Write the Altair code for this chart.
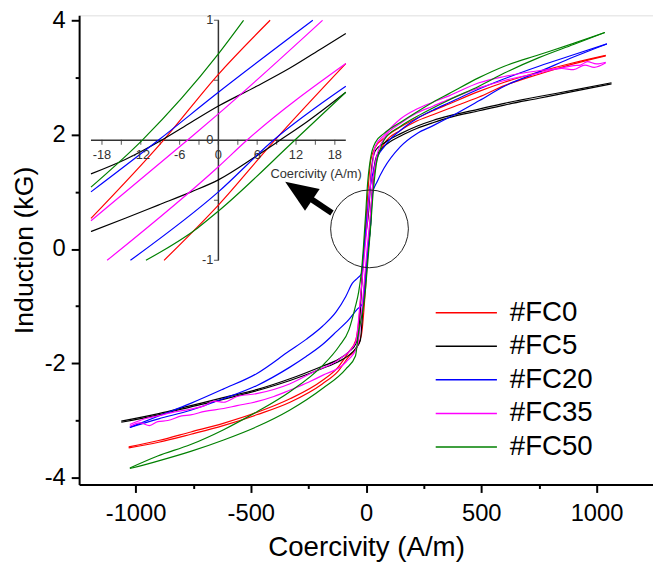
import altair as alt
import pandas as pd

# ---------------- data ----------------
series_names = ["#FC0", "#FC5", "#FC20", "#FC35", "#FC50"]
series_colors = ["#ff0000", "#000000", "#0000ff", "#ff00ff", "#008000"]

# main hysteresis loops: descending branch (from +H to -H) and ascending branch (from -H to +H)
fc0_desc_h = [1040, 900, 750, 600, 490, 360, 290, 220, 150, 80, 40, 20, 8, 0, -9, -20, -30, -45, -75, -120, -190, -330, -475, -620, -760, -900, -1030]
fc0_desc_b = [3.39, 3.26, 3.10, 2.92, 2.76, 2.54, 2.42, 2.29, 2.14, 1.95, 1.78, 1.55, 1.0, 0.55, 0.0, -0.66, -1.20, -1.60, -1.80, -2.06, -2.30, -2.62, -2.86, -3.05, -3.20, -3.35, -3.46]
fc0_asc_h = [-1030, -900, -760, -620, -475, -330, -190, -120, -75, -45, -20, -8, 0, 9, 20, 30, 45, 80, 150, 220, 290, 360, 490, 600, 750, 900, 1040]
fc0_asc_b = [-3.48, -3.38, -3.24, -3.09, -2.90, -2.68, -2.36, -2.13, -1.88, -1.75, -1.50, -1.0, -0.54, 0.0, 0.64, 1.15, 1.55, 1.85, 2.08, 2.24, 2.35, 2.46, 2.66, 2.86, 3.06, 3.24, 3.38]

fc5_desc_h = [1065, 900, 750, 600, 490, 360, 290, 220, 150, 80, 40, 25, 10, 0, -9, -20, -30, -45, -75, -120, -190, -330, -475, -620, -760, -900, -1062]
fc5_desc_b = [2.91, 2.78, 2.67, 2.55, 2.45, 2.33, 2.25, 2.15, 2.02, 1.86, 1.72, 1.45, 0.60, 0.29, 0.0, -0.70, -1.40, -1.66, -1.80, -1.93, -2.05, -2.27, -2.46, -2.60, -2.74, -2.88, -3.01]
fc5_asc_h = [-1062, -900, -760, -620, -475, -330, -190, -120, -75, -45, -25, -10, 0, 9.5, 20, 30, 45, 80, 150, 220, 290, 360, 490, 600, 750, 900, 1065]
fc5_asc_b = [-3.03, -2.90, -2.76, -2.63, -2.48, -2.30, -2.09, -1.97, -1.86, -1.74, -1.60, -0.80, -0.33, 0.0, 0.45, 1.20, 1.62, 1.80, 1.98, 2.11, 2.21, 2.30, 2.42, 2.52, 2.64, 2.76, 2.89]

fc20_desc_h = [1045, 900, 750, 600, 490, 360, 290, 220, 150, 80, 40, 15, 0, -9, -20, -35, -60, -88, -130, -189, -260, -332, -475, -620, -761, -900, -1025]
fc20_desc_b = [3.59, 3.40, 3.20, 2.98, 2.80, 2.56, 2.43, 2.28, 2.08, 1.80, 1.50, 1.00, 0.40, 0.0, -0.43, -0.50, -0.60, -0.83, -1.10, -1.35, -1.58, -1.78, -2.18, -2.45, -2.70, -2.92, -3.12]
fc20_asc_h = [-1025, -900, -761, -620, -475, -332, -260, -189, -130, -74, -38, -14, 0, 8.5, 20, 26, 48, 77, 148, 220, 291, 363, 492, 600, 750, 900, 1045]
fc20_asc_b = [-3.12, -2.97, -2.82, -2.62, -2.39, -2.07, -1.88, -1.67, -1.45, -1.23, -1.05, -0.95, -0.43, 0.0, 0.45, 0.95, 1.18, 1.41, 1.79, 2.02, 2.16, 2.31, 2.60, 2.85, 3.10, 3.36, 3.59]

fc35_desc_h = [1040, 1000, 960, 930, 900, 850, 750, 600, 490, 360, 290, 220, 150, 80, 40, 16, 0, -5, -20, -46, -117, -218, -332, -475, -560, -618, -660, -700, -761, -830, -904, -960, -1025]
fc35_desc_b = [3.27, 3.24, 3.28, 3.22, 3.21, 3.17, 3.12, 3.02, 2.91, 2.68, 2.57, 2.45, 2.28, 2.00, 1.80, 1.00, 0.22, 0.0, -0.67, -1.64, -1.93, -2.13, -2.36, -2.53, -2.58, -2.68, -2.66, -2.74, -2.80, -2.85, -2.92, -2.97, -3.07]
fc35_asc_h = [-1025, -980, -940, -904, -860, -800, -761, -700, -618, -560, -475, -400, -332, -250, -189, -88, -38, -17, 0, 4.4, 20, 30, 45, 80, 150, 220, 290, 360, 490, 600, 750, 850, 900, 950, 990, 1040]
fc35_asc_b = [-3.10, -3.04, -3.09, -3.02, -3.00, -2.92, -2.90, -2.84, -2.79, -2.74, -2.67, -2.58, -2.47, -2.33, -2.21, -1.98, -1.70, -1.0, -0.21, 0.0, 0.64, 1.20, 1.60, 1.95, 2.20, 2.38, 2.50, 2.62, 2.82, 2.95, 3.08, 3.16, 3.14, 3.22, 3.18, 3.26]

fc50_desc_h = [1036, 900, 750, 600, 490, 360, 290, 220, 150, 77, 41, 20, 4, 0, -12, -20, -32, -46, -74, -117, -189, -332, -475, -618, -761, -904, -1025]
fc50_desc_b = [3.79, 3.60, 3.40, 3.20, 3.00, 2.72, 2.57, 2.40, 2.22, 2.02, 1.87, 1.60, 1.00, 0.72, 0.0, -0.39, -0.75, -1.00, -1.41, -1.70, -2.04, -2.50, -2.85, -3.16, -3.42, -3.62, -3.83]
fc50_asc_h = [-1025, -904, -761, -618, -475, -332, -189, -88, -46, -32, -20, -11, -3, 0, 12, 20, 30, 45, 62, 77, 150, 220, 290, 360, 490, 600, 750, 900, 1036]
fc50_asc_b = [-3.84, -3.71, -3.54, -3.34, -3.11, -2.82, -2.44, -2.10, -1.87, -1.45, -1.20, -1.00, -0.73, -0.59, 0.0, 0.40, 0.95, 1.50, 1.75, 1.90, 2.15, 2.32, 2.47, 2.61, 2.85, 3.08, 3.35, 3.58, 3.79]

# inset (zoom of the region around the origin)
in_fc0_desc_h = [-19.7, -8.5, 0, 8.0]
in_fc0_desc_b = [-0.65, 0.0, 0.55, 1.0]
in_fc0_asc_h = [-8.4, 0, 8.7, 19.7]
in_fc0_asc_b = [-1.0, -0.54, 0.0, 0.64]
in_fc5_desc_h = [-19.7, -14.4, -8.8, -4.2, 0, 5.9, 11.0, 16.1, 19.7]
in_fc5_desc_b = [-0.28, -0.16, 0.0, 0.15, 0.285, 0.45, 0.60, 0.77, 0.89]
in_fc5_asc_h = [-19.7, -14.4, -9.3, -4.2, 0, 5.9, 9.5, 13.6, 19.7]
in_fc5_asc_b = [-0.76, -0.65, -0.54, -0.43, -0.33, -0.13, 0.0, 0.15, 0.40]
in_fc20_desc_h = [-19.7, -9.3, 0, 14.6]
in_fc20_desc_b = [-0.43, 0.0, 0.40, 1.0]
in_fc20_asc_h = [-13.6, 0, 8.5, 19.7]
in_fc20_asc_b = [-1.0, -0.43, 0.0, 0.45]
in_fc35_desc_h = [-19.7, -4.8, 0, 16.1]
in_fc35_desc_b = [-0.67, 0.0, 0.22, 1.0]
in_fc35_asc_h = [-17.2, 0, 4.4, 19.7]
in_fc35_asc_b = [-1.0, -0.22, 0.0, 0.64]
in_fc50_desc_h = [-19.7, -11.8, 0, 3.9]
in_fc50_desc_b = [-0.39, 0.0, 0.72, 1.0]
in_fc50_asc_h = [-11.2, -3.2, 0, 11.8, 19.7]
in_fc50_asc_b = [-1.0, -0.73, -0.59, 0.0, 0.40]

inset_x_ticks = [-18, -12, -6, 0, 6, 12, 18]
inset_x_minor = [-15, -9, -3, 3, 9, 15]
inset_y_ticks = [-1, -0.5, 0, 0.5, 1]
inset_y_labels = [1, 0, -1]

main_x_ticks = [-1000, -750, -500, -250, 0, 250, 500, 750, 1000]
main_y_ticks = [-4, -3, -2, -1, 0, 1, 2, 3, 4]

# annotation: magnifier circle centre and arrow (head centre, tail) in data units
circle_h = [15]
circle_b = [0.354]
arrow_h = [-292, -148]
arrow_b = [1.02, 0.63]

# ---------------- tables ----------------
main_sets = {
    "#FC0": (fc0_desc_h, fc0_desc_b, fc0_asc_h, fc0_asc_b),
    "#FC5": (fc5_desc_h, fc5_desc_b, fc5_asc_h, fc5_asc_b),
    "#FC20": (fc20_desc_h, fc20_desc_b, fc20_asc_h, fc20_asc_b),
    "#FC35": (fc35_desc_h, fc35_desc_b, fc35_asc_h, fc35_asc_b),
    "#FC50": (fc50_desc_h, fc50_desc_b, fc50_asc_h, fc50_asc_b),
}
inset_sets = {
    "#FC0": (in_fc0_desc_h, in_fc0_desc_b, in_fc0_asc_h, in_fc0_asc_b),
    "#FC5": (in_fc5_desc_h, in_fc5_desc_b, in_fc5_asc_h, in_fc5_asc_b),
    "#FC20": (in_fc20_desc_h, in_fc20_desc_b, in_fc20_asc_h, in_fc20_asc_b),
    "#FC35": (in_fc35_desc_h, in_fc35_desc_b, in_fc35_asc_h, in_fc35_asc_b),
    "#FC50": (in_fc50_desc_h, in_fc50_desc_b, in_fc50_asc_h, in_fc50_asc_b),
}


def build(sets):
    rows = []
    for name, (dh, db, ah, ab) in sets.items():
        for i, (h, b) in enumerate(zip(dh, db)):
            rows.append({"series": name, "key": name + "d", "i": i, "H": h, "B": b})
        for i, (h, b) in enumerate(zip(ah, ab)):
            rows.append({"series": name, "key": name + "a", "i": i, "H": h, "B": b})
    return pd.DataFrame(rows)


main_df = build(main_sets)
inset_df = build(inset_sets)

FONT = "Liberation Sans"
main_x = alt.Scale(domain=[-1245, 1245], nice=False, zero=False)
main_y = alt.Scale(domain=[-4.12, 4.09], nice=False, zero=False)
in_x = alt.Scale(domain=[-19.7, 19.7], range=[12, 270], nice=False, zero=False)
in_y = alt.Scale(domain=[-1, 1], range=[248, 5], nice=False, zero=False)
color_scale = alt.Scale(domain=series_names, range=series_colors)

x_axis = alt.Axis(
    values=main_x_ticks,
    labelExpr="datum.value % 500 === 0 ? '' + datum.value : ''",
    tickSize=alt.condition("datum.value % 500 === 0", alt.value(8), alt.value(4)),
    grid=False, domainColor="black", domainWidth=2, tickColor="black", tickWidth=2,
    labelFontSize=24, labelColor="black", labelPadding=9, labelFont=FONT,
    titleFontSize=28, titleFontWeight="normal", titleColor="black", titlePadding=9, titleFont=FONT,
)
y_axis = alt.Axis(
    values=main_y_ticks,
    labelExpr="datum.value % 2 === 0 ? '' + datum.value : ''",
    tickSize=alt.condition("datum.value % 2 === 0", alt.value(8), alt.value(4)),
    grid=False, domainColor="black", domainWidth=2, tickColor="black", tickWidth=2,
    labelFontSize=24, labelColor="black", labelPadding=6, labelFont=FONT,
    titleFontSize=27, titleFontWeight="normal", titleColor="black", titlePadding=6, titleFont=FONT,
)

main = alt.Chart(main_df).mark_line(strokeWidth=1.2, interpolate="monotone").encode(
    x=alt.X("H:Q", scale=main_x, axis=x_axis, title="Coercivity (A/m)"),
    y=alt.Y("B:Q", scale=main_y, axis=y_axis, title="Induction (kG)"),
    color=alt.Color("series:N", scale=color_scale, sort=series_names,
                    legend=alt.Legend(orient="none", legendX=378, legendY=287, title=None,
                                      symbolType="M-4,0H4", symbolSize=240, symbolStrokeWidth=1.5,
                                      labelFontSize=28, labelFont=FONT, labelColor="black",
                                      labelOffset=30, rowPadding=6)),
    detail="key:N",
    order="H:Q",
)

inset_lines = alt.Chart(inset_df).mark_line(strokeWidth=1.2, interpolate="monotone").encode(
    x=alt.X("H:Q", scale=in_x, axis=None),
    y=alt.Y("B:Q", scale=in_y, axis=None),
    color=alt.Color("series:N", scale=color_scale, legend=None),
    detail="key:N",
    order="H:Q",
)

axis_df = pd.DataFrame({"x1": [min(inset_x_ticks) - 1.7, 0], "x2": [max(inset_x_ticks) + 1.7, 0],
                        "y1": [0, min(inset_y_ticks)], "y2": [0, max(inset_y_ticks)]})
inset_axes = alt.Chart(axis_df).mark_rule(color="#333333", strokeWidth=1.5).encode(
    x=alt.X("x1:Q", scale=in_x, axis=None), x2="x2:Q",
    y=alt.Y("y1:Q", scale=in_y, axis=None), y2="y2:Q",
)

xt_df = pd.DataFrame({"H": inset_x_ticks + inset_x_minor, "B": [0] * (len(inset_x_ticks) + len(inset_x_minor))})
inset_xticks = alt.Chart(xt_df).mark_tick(color="#333333", orient="vertical", size=5, thickness=1.2, yOffset=2).encode(
    x=alt.X("H:Q", scale=in_x, axis=None), y=alt.Y("B:Q", scale=in_y, axis=None))
yt_df = pd.DataFrame({"H": [0] * len(inset_y_ticks), "B": inset_y_ticks})
inset_yticks = alt.Chart(yt_df).mark_tick(color="#333333", orient="horizontal", size=5, thickness=1.2, xOffset=-2).encode(
    x=alt.X("H:Q", scale=in_x, axis=None), y=alt.Y("B:Q", scale=in_y, axis=None))

xl_df = pd.DataFrame({"H": inset_x_ticks, "B": [0] * len(inset_x_ticks), "t": [str(v) for v in inset_x_ticks]})
inset_xlabels = alt.Chart(xl_df).mark_text(font=FONT, fontSize=13, color="#333333", baseline="top", dy=9).encode(
    x=alt.X("H:Q", scale=in_x, axis=None), y=alt.Y("B:Q", scale=in_y, axis=None), text="t:N")
yl_df = pd.DataFrame({"H": [0] * len(inset_y_labels), "B": inset_y_labels, "t": [str(v) for v in inset_y_labels]})
inset_ylabels = alt.Chart(yl_df).mark_text(font=FONT, fontSize=13, color="#333333", align="right", dx=-5).encode(
    x=alt.X("H:Q", scale=in_x, axis=None), y=alt.Y("B:Q", scale=in_y, axis=None), text="t:N")
ttl_df = pd.DataFrame({"H": [15.1], "B": [-0.28], "t": ["Coercivity (A/m)"]})
inset_title = alt.Chart(ttl_df).mark_text(font=FONT, fontSize=13, color="#333333").encode(
    x=alt.X("H:Q", scale=in_x, axis=None), y=alt.Y("B:Q", scale=in_y, axis=None), text="t:N")

circ_df = pd.DataFrame({"H": circle_h, "B": circle_b})
circle = alt.Chart(circ_df).mark_point(shape="circle", size=6200, filled=False, color="#222222",
                                       strokeWidth=1, opacity=1).encode(
    x=alt.X("H:Q", scale=main_x, axis=None), y=alt.Y("B:Q", scale=main_y, axis=None))

shaft_df = pd.DataFrame({"h1": [arrow_h[0]], "h2": [arrow_h[1]], "b1": [arrow_b[0]], "b2": [arrow_b[1]]})
shaft = alt.Chart(shaft_df).mark_rule(color="black", strokeWidth=6).encode(
    x=alt.X("h1:Q", scale=main_x, axis=None), x2="h2:Q",
    y=alt.Y("b1:Q", scale=main_y, axis=None), y2="b2:Q")
head_df = pd.DataFrame({"H": [arrow_h[0]], "B": [arrow_b[0]]})
head = alt.Chart(head_df).mark_point(shape="M0,-1L0.8,1L-0.8,1Z", size=1100, filled=True, color="black",
                                     opacity=1, angle=304).encode(
    x=alt.X("H:Q", scale=main_x, axis=None), y=alt.Y("B:Q", scale=main_y, axis=None))

chart = alt.layer(
    main, inset_axes, inset_xticks, inset_yticks, inset_lines, inset_xlabels, inset_ylabels,
    inset_title, circle, shaft, head,
).resolve_scale(x="independent", y="independent").properties(
    width=581, height=475, autosize="none",
    padding={"left": 72, "top": 4, "right": 0, "bottom": 75},
).configure_view(stroke="#777777", strokeWidth=1.5).configure(font=FONT)

chart.save("out.html", embed_options={"renderer": "svg", "actions": False})
